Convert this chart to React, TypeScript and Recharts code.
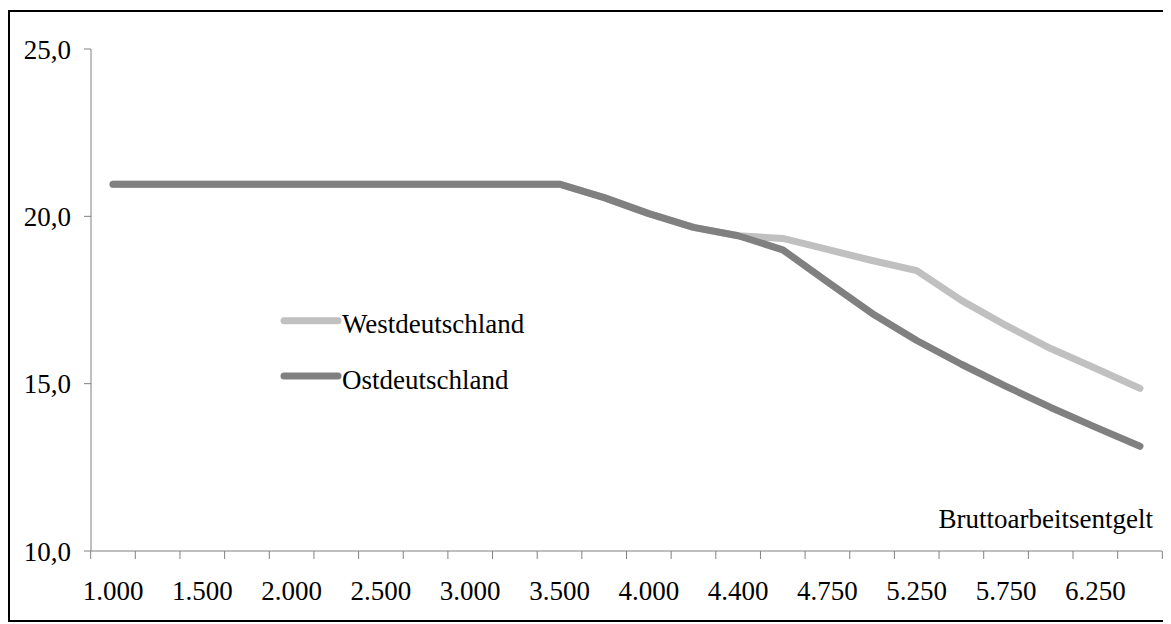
import React from 'react';
import { LineChart, Line, XAxis, YAxis, Legend, Label } from 'recharts';

// Bruttoarbeitsentgelt categories (every other one is labelled on the axis)
const entgelt = [
  '1.000', '1.250', '1.500', '1.750', '2.000', '2.250', '2.500', '2.750',
  '3.000', '3.250', '3.500', '3.750', '4.000', '4.200', '4.400', '4.575',
  '4.750', '5.000', '5.250', '5.500', '5.750', '6.000', '6.250', '6.500',
];

const west = [
  20.96, 20.96, 20.96, 20.96, 20.96, 20.96, 20.96, 20.96, 20.96, 20.96, 20.96,
  20.56, 20.08, 19.67, 19.42, 19.34, 19.01, 18.68, 18.38, 17.49, 16.74, 16.05,
  15.46, 14.86,
];

const ost = [
  20.96, 20.96, 20.96, 20.96, 20.96, 20.96, 20.96, 20.96, 20.96, 20.96, 20.96,
  20.56, 20.08, 19.67, 19.42, 19.0, 18.04, 17.1, 16.29, 15.58, 14.92, 14.29,
  13.7, 13.13,
];

const seriesNames = ['Westdeutschland', 'Ostdeutschland'];
const yTicks = [10, 15, 20, 25];

const data = entgelt.map((e, i) => ({ entgelt: e, west: west[i], ost: ost[i] }));

const FONT = "'Liberation Serif', 'Times New Roman', serif";
const FONT_SIZE = 27;
const AXIS_COLOR = '#808080';

const CHART_W = 1156;
const CHART_H = 608;
const MARGIN = { top: 37, right: 4, bottom: 8, left: 0 };
const Y_AXIS_W = 81;
const X_AXIS_H = 61;
const PAD = 22;
// distance between two category points, used to put tick marks between categories
const STEP =
  (CHART_W - MARGIN.left - MARGIN.right - Y_AXIS_W - 2 * PAD) / (entgelt.length - 1);

const formatY = (v: number) => v.toFixed(1).replace('.', ',');

const XTick = (props: any) => {
  const { x, y, payload } = props;
  const index = props.index ?? payload.index ?? 0;
  const half = STEP / 2;
  const isLast = index === entgelt.length - 1;
  return (
    <g>
      <line x1={x - half} y1={y} x2={x - half} y2={y + 8} stroke={AXIS_COLOR} />
      {isLast && <line x1={x + half} y1={y} x2={x + half} y2={y + 8} stroke={AXIS_COLOR} />}
      {index % 2 === 0 && (
        <text x={x} y={y + 49} textAnchor="middle" fontFamily={FONT} fontSize={FONT_SIZE} fill="#000">
          {payload.value}
        </text>
      )}
    </g>
  );
};

const renderLegend = (props: any) => {
  const items = [...(props.payload || [])].sort(
    (a: any, b: any) => seriesNames.indexOf(a.value) - seriesNames.indexOf(b.value)
  );
  return (
    <svg width={300} height={95}>
      {items.map((entry: any, i: number) => {
        const cy = 20.7 + i * 55.3;
        return (
          <g key={entry.value}>
            <line x1={14} x2={68} y1={cy} y2={cy} stroke={entry.color} strokeWidth={7} strokeLinecap="round" />
            <text x={72} y={cy + 12.6} fontFamily={FONT} fontSize={FONT_SIZE} fill="#000">
              {entry.value}
            </text>
          </g>
        );
      })}
    </svg>
  );
};

const renderAxisTitle = (props: any) => {
  const { x, y, width } = props.viewBox;
  return (
    <text x={x + width - 9} y={y - 23} textAnchor="end" fontFamily={FONT} fontSize={FONT_SIZE} fill="#000">
      Bruttoarbeitsentgelt
    </text>
  );
};

export default function App() {
  return (
    <div
      style={{
        width: 1160,
        height: 612,
        border: '2px solid #000',
        boxSizing: 'border-box',
        marginTop: 2,
        background: '#fff',
      }}
    >
      <LineChart width={CHART_W} height={CHART_H} data={data} margin={MARGIN}>
        <XAxis
          dataKey="entgelt"
          interval={0}
          height={X_AXIS_H}
          padding={{ left: PAD, right: PAD }}
          tickSize={0}
          tickMargin={0}
          tickLine={false}
          axisLine={{ stroke: AXIS_COLOR }}
          tick={<XTick />}
        >
          <Label content={renderAxisTitle} />
        </XAxis>
        <YAxis
          width={Y_AXIS_W}
          domain={[10, 25]}
          ticks={yTicks}
          interval={0}
          tickSize={7}
          tickMargin={13}
          tickFormatter={formatY}
          axisLine={{ stroke: AXIS_COLOR }}
          tickLine={{ stroke: AXIS_COLOR }}
          tick={{ fill: '#000', fontSize: FONT_SIZE, fontFamily: FONT }}
        />
        <Legend
          layout="vertical"
          align="center"
          verticalAlign="middle"
          itemSorter={null}
          wrapperStyle={{ left: 260, top: 288, width: 300, height: 95 }}
          content={renderLegend}
        />
        <Line
          type="linear"
          dataKey="west"
          name={seriesNames[0]}
          stroke="#c0c0c0"
          strokeWidth={7}
          strokeLinecap="round"
          strokeLinejoin="round"
          dot={false}
          activeDot={false}
          isAnimationActive={false}
        />
        <Line
          type="linear"
          dataKey="ost"
          name={seriesNames[1]}
          stroke="#808080"
          strokeWidth={7}
          strokeLinecap="round"
          strokeLinejoin="round"
          dot={false}
          activeDot={false}
          isAnimationActive={false}
        />
      </LineChart>
    </div>
  );
}
